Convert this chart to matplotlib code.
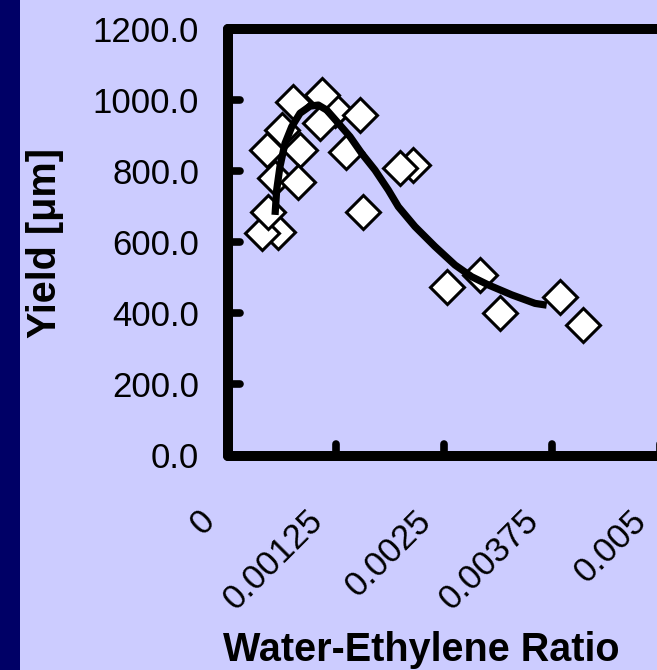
import matplotlib
matplotlib.use("Agg")
import matplotlib.pyplot as plt
import matplotlib.transforms as mtransforms
from matplotlib.markers import MarkerStyle, TICKUP, TICKRIGHT
from matplotlib.patches import Rectangle

plt.rcParams['font.family'] = ['Liberation Sans', 'DejaVu Sans']

# measured points (water-ethylene ratio, yield in um), back ones first
ratio = [0.001235, 0.002138, 0.000579, 0.000618, 0.000387, 0.000463,
         0.000752, 0.001081, 0.001061, 0.001524, 0.000444, 0.000830,
         0.001362, 0.000541, 0.000810, 0.001563, 0.001987, 0.002528,
         0.002913, 0.003145, 0.003839, 0.004109]
yield_um = [972, 817, 630, 916, 625, 686,
            995, 1014, 935, 958, 860, 860,
            853, 780, 770, 686, 808, 475,
            508, 400, 447, 366]

# fitted trend curve
fit_ratio = [0.000541, 0.000560, 0.000598, 0.000656, 0.000734, 0.000830,
             0.000946, 0.001042, 0.001139, 0.001273, 0.001409, 0.001544,
             0.001698, 0.001852, 0.001968, 0.002161, 0.002392, 0.002624,
             0.002817, 0.003009, 0.003280, 0.003550, 0.003685]
fit_yield = [677, 747, 813, 878, 925, 963,
             983, 986, 972, 935, 897, 850,
             803, 747, 700, 644, 588, 536,
             503, 480, 452, 428, 423]

xticks = [0, 0.00125, 0.0025, 0.00375, 0.005]
xtick_labels = ['0', '0.00125', '0.0025', '0.00375', '0.005']
yticks = [0, 200, 400, 600, 800, 1000, 1200]
ytick_labels = ['%.1f' % v for v in yticks]

bg = '#CCCCFF'
navy = '#000066'

fig = plt.figure(figsize=(6.57, 6.70), dpi=100, facecolor=bg)
fig.patches.append(Rectangle((0, 0), 20 / 657, 1, transform=fig.transFigure,
                             facecolor=navy, edgecolor='none', zorder=-1))

ax = fig.add_axes([228.3 / 657, 1 - 455.5 / 670, 432 / 657, 426.5 / 670])
ax.set_facecolor(bg)

ax.plot(ratio, yield_um, linestyle='none', marker='D', markersize=17,
        markerfacecolor='white', markeredgecolor='black', markeredgewidth=2.2,
        zorder=3)
ax.plot(fit_ratio, fit_yield, color='black', linewidth=5.2,
        solid_capstyle='butt', solid_joinstyle='round', zorder=4)

ax.set_xlim(0, 0.005)
ax.set_ylim(0, 1200)
ax.set_xticks(xticks)
ax.set_xticklabels(xtick_labels, rotation=45, ha='right', fontsize=25)
ax.set_yticks(yticks)
ax.set_yticklabels(ytick_labels, fontsize=25)

for s in ax.spines.values():
    s.set_linewidth(7.2)
    s.set_capstyle('round')

ax.tick_params(direction='in', length=8.5, width=5.5, color='black')
ax.tick_params(axis='x', pad=35)
ax.tick_params(axis='y', pad=21)

for t in ax.xaxis.get_major_ticks():
    t.tick1line.set_marker(MarkerStyle(TICKUP, capstyle='round'))
for t in ax.yaxis.get_major_ticks():
    t.tick1line.set_marker(MarkerStyle(TICKRIGHT, capstyle='round'))

# shift rotated x labels a bit left like the original
offset = mtransforms.ScaledTranslation(-7 / 100, 0, fig.dpi_scale_trans)
for lab in ax.get_xticklabels():
    lab.set_transform(lab.get_transform() + offset)

ax.set_xlabel('Water-Ethylene Ratio', fontsize=28.5, fontweight='bold', va='center')
ax.xaxis.set_label_coords((421 - 228.3) / 432, (455.5 - 650) / 426.5)
ax.set_ylabel('Yield [μm]', fontsize=28.5, fontweight='bold', va='center')
ax.yaxis.set_label_coords((45 - 228.3) / 432, (455.5 - 243) / 426.5)

fig.savefig('out.png', dpi=100, facecolor=bg)
